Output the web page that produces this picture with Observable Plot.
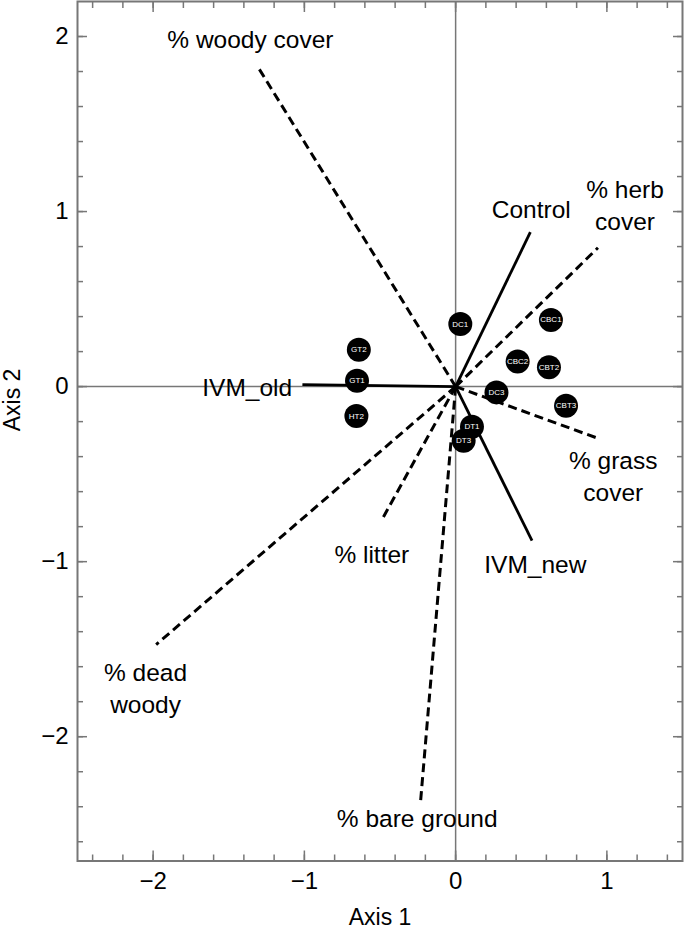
<!DOCTYPE html>
<html>
<head>
<meta charset="utf-8">
<script src="https://cdn.jsdelivr.net/npm/d3@7"></script>
<script src="https://cdn.jsdelivr.net/npm/@observablehq/plot@0.6"></script>
<style>
  html, body { margin: 0; padding: 0; background: #fff; }
  #chart { width: 685px; height: 930px; }
</style>
</head>
<body>
<div id="chart"></div>
<script>
// Site scores
const sites = ["DC1", "CBC1", "GT2", "CBC2", "CBT2", "GT1", "DC3", "CBT3", "HT2", "DT1", "DT3"];
const siteX = [0.031, 0.63, -0.64, 0.41, 0.617, -0.652, 0.27, 0.73, -0.656, 0.108, 0.053];
const siteY = [0.358, 0.381, 0.21, 0.143, 0.11, 0.034, -0.033, -0.109, -0.168, -0.229, -0.309];

// Vectors (biplot arrows)
const vectors = ["% woody cover", "Control", "% herb\ncover", "IVM_old", "% grass\ncover", "% litter", "IVM_new", "% dead\nwoody", "% bare ground"];
const vecGroup = ["habitat", "treatment", "habitat", "treatment", "habitat", "habitat", "treatment", "habitat", "habitat"];
const vecX = [-1.313, 0.494, 0.941, -1.013, 0.952, -0.491, 0.505, -1.98, -0.233];
const vecY = [1.834, 0.882, 0.793, 0.011, -0.299, -0.766, -0.88, -1.474, -2.383];
// label anchor points (data units)
const labX = [-1.357, 0.5, 1.12, -1.378, 1.042, -0.554, 0.527, -2.05, -0.254];
const labY = [1.994, 1.02, 1.046, 0.006, -0.503, -0.947, -1.004, -1.714, -2.457];

// Axis ticks
const majorX = [-2, -1, 0, 1];
const majorY = [-2, -1, 0, 1, 2];
const minorX = d3.range(-24, 15, 2).map(v => v / 10);
const minorY = d3.range(-26, 22, 2).map(v => v / 10);

const font = "'Liberation Sans', Arial, Helvetica, sans-serif";
const gray = "#777";
const vi = d3.range(vectors.length);
const si = d3.range(sites.length);
const fmt = d => (d < 0 ? "\u2212" : "") + Math.abs(d);

const tickOpts = {stroke: gray, strokeWidth: 1.5, tickFormat: () => "", label: null};

const chart = Plot.plot({
  width: 685,
  height: 930,
  marginLeft: 77,
  marginRight: 3,
  marginTop: 1,
  marginBottom: 69.5,
  style: {fontFamily: font, background: "#fff"},
  x: {domain: [-2.5, 1.5]},
  y: {domain: [-2.71, 2.2]},
  marks: [
    Plot.ruleX([0], {stroke: gray, strokeWidth: 1.5}),
    Plot.ruleY([0], {stroke: gray, strokeWidth: 1.5}),
    // minor and major ticks on all sides (inward)
    Plot.axisX(minorX, {anchor: "bottom", tickSize: -6, ...tickOpts}),
    Plot.axisX(minorX, {anchor: "top", tickSize: -6, ...tickOpts}),
    Plot.axisY(minorY, {anchor: "left", tickSize: -6, ...tickOpts}),
    Plot.axisY(minorY, {anchor: "right", tickSize: -6, ...tickOpts}),
    Plot.axisX(majorX, {anchor: "bottom", tickSize: -10, ...tickOpts}),
    Plot.axisX(majorX, {anchor: "top", tickSize: -10, ...tickOpts}),
    Plot.axisY(majorY, {anchor: "left", tickSize: -10, ...tickOpts}),
    Plot.axisY(majorY, {anchor: "right", tickSize: -10, ...tickOpts}),
    // tick labels
    Plot.axisX(majorX, {anchor: "bottom", tickSize: 0, tickPadding: 11, fontSize: 24, fill: "#000", label: null, tickFormat: fmt}),
    Plot.axisY(majorY, {anchor: "left", tickSize: 0, tickPadding: 9, fontSize: 24, fill: "#000", label: null, tickFormat: fmt}),
    // vectors
    Plot.link(vi.filter(i => vecGroup[i] === "habitat"), {
      x1: () => 0, y1: () => 0, x2: i => vecX[i], y2: i => vecY[i],
      stroke: "#000", strokeWidth: 3, strokeDasharray: "9,5"
    }),
    Plot.link(vi.filter(i => vecGroup[i] === "treatment"), {
      x1: () => 0, y1: () => 0, x2: i => vecX[i], y2: i => vecY[i],
      stroke: "#000", strokeWidth: 2.8
    }),
    // sites
    Plot.dot(si, {x: i => siteX[i], y: i => siteY[i], r: 12, fill: "#000"}),
    Plot.text(si, {x: i => siteX[i], y: i => siteY[i], text: i => sites[i], fill: "#fff", fontSize: 8, fontFamily: font}),
    // vector labels
    Plot.text(vi, {x: i => labX[i], y: i => labY[i], text: i => vectors[i], fontSize: 24.5, lineHeight: 1.32, fill: "#000", fontFamily: font}),
    // axis titles
    Plot.text(["Axis 1"], {frameAnchor: "bottom", dy: 64, fontSize: 23, fill: "#000"}),
    Plot.text(["Axis 2"], {frameAnchor: "left", dx: -65, rotate: -90, fontSize: 23, fill: "#000"}),
    Plot.frame({stroke: gray, strokeWidth: 2})
  ]
});
document.getElementById("chart").appendChild(chart);
</script>
</body>
</html>
